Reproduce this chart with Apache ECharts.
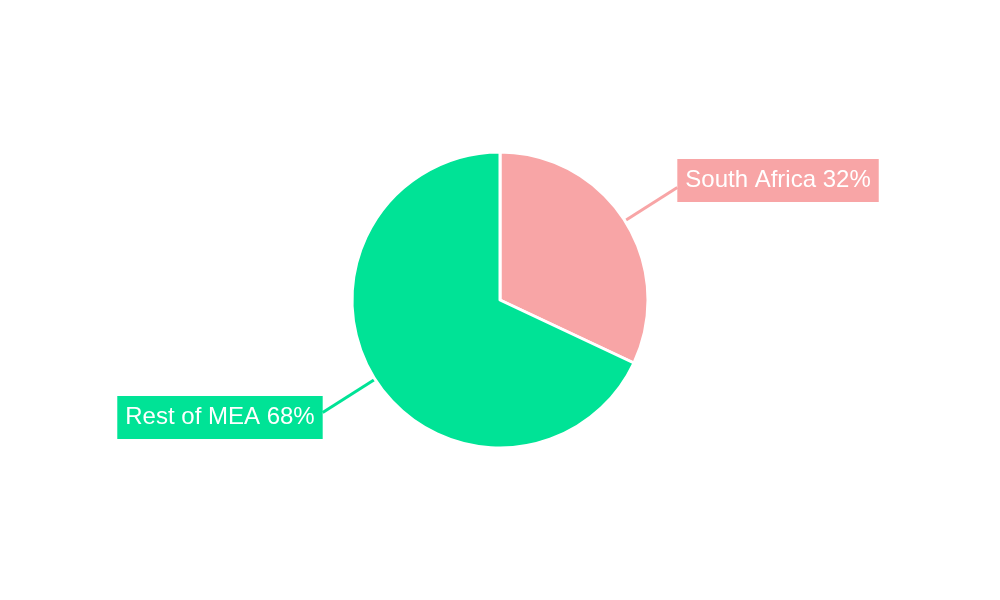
<!DOCTYPE html>
<html>
<head>
<meta charset="utf-8">
<script src="https://cdn.jsdelivr.net/npm/echarts@6/dist/echarts.min.js"></script>
<style>html,body{margin:0;padding:0;background:#fff}#c{width:1000px;height:600px}</style>
</head>
<body>
<div id="c"></div>
<script>
const categories = ['South Africa', 'Rest of MEA'];
const values = [32, 68];
const colors = ['#F8A5A6', '#00E396'];

const chart = echarts.init(document.getElementById('c'));
chart.setOption({
  animation: false,
  series: [{
    type: 'pie',
    center: [500, 300],
    radius: [0, 148],
    startAngle: 90,
    clockwise: true,
    itemStyle: { borderColor: '#fff', borderWidth: 3 },
    label: {
      show: true,
      position: 'outside',
      formatter: p => p.name + ' ' + p.value + '%',
      color: '#fff',
      fontSize: 24,
      fontFamily: 'Liberation Sans, Arial, sans-serif',
      padding: [11, 8, 8, 8],
      distanceToLabelLine: 0
    },
    labelLine: { show: true, length: 62, length2: 0, lineStyle: { width: 3 } },
    labelLayout: function (p) {
      const cy = p.labelRect.y + p.labelRect.height / 2;
      return { dy: cy < 300 ? -7 : 5 };
    },
    data: categories.map((c, i) => ({
      name: c, value: values[i],
      itemStyle: { color: colors[i] },
      label: { backgroundColor: colors[i] }
    }))
  }]
});
</script>
</body>
</html>
